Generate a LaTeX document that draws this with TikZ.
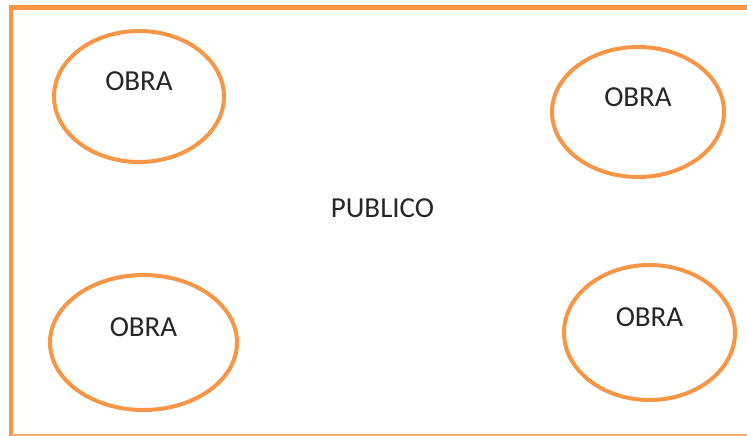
\documentclass[tikz,border=0pt]{standalone}
\usepackage{fontspec}
\setmainfont{Carlito}
\usepackage{tikz}
\usetikzlibrary{shapes.geometric}

\definecolor{naranja}{HTML}{F79646}

\begin{document}
\begin{tikzpicture}[x=1pt,y=-1pt,
    obra/.style={draw=naranja, line width=4pt, ellipse, inner sep=0pt},
    rotulo/.style={font=\fontsize{29}{30}\selectfont, text=black!85}]
        % Tamaño del dibujo
        \useasboundingbox (0,0) rectangle (747,436);
        \def\desplaza{15}                 % Texto un poco por encima del centro

        % Marco del recinto (sin lado derecho)
        \coordinate (A) at (11,436);
        \coordinate (B) at (11,7.5);
        \coordinate (C) at (760,7.5);
        \draw[naranja, line width=4.5pt] (A) -- (B) -- (C);
        \draw[naranja!80, line width=1.2pt] (11,435) -- (760,435);

        % Las cuatro obras
        \node[obra, minimum width=170, minimum height=131] (O1) at (139,96.5) {};
        \node[obra, minimum width=172, minimum height=130] (O2) at (638,112) {};
        \node[obra, minimum width=187, minimum height=135] (O3) at (143.5,342.5) {};
        \node[obra, minimum width=171, minimum height=135] (O4) at (649.5,332.5) {};

        % Textos de las obras
        \foreach \o in {O1,O2,O3,O4}
          \node[rotulo] at ([yshift=\desplaza]\o.center) {OBRA};

        % Zona central
        \node[rotulo] (P) at (382.5,208) {PUBLICO};
      \end{tikzpicture}
\end{document}
